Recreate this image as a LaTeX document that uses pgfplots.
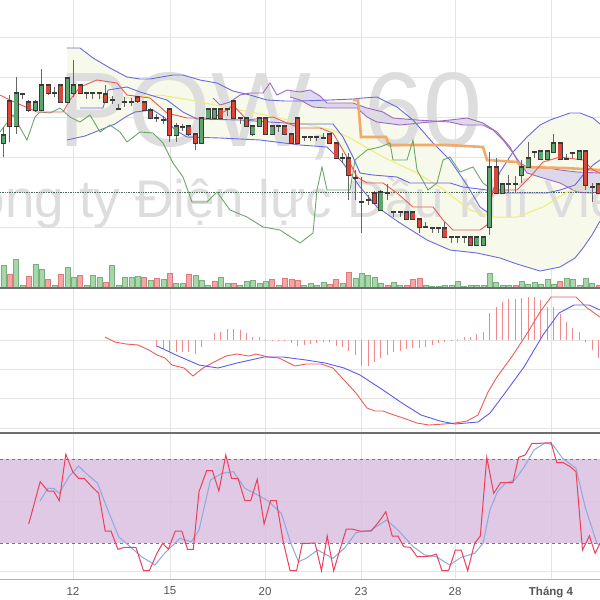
\documentclass[border=0pt]{standalone}
\usepackage{fontspec}
\setmainfont{Liberation Sans}
\usepackage{pgfplots}
\usepackage{pgfplotstable}
\pgfplotsset{compat=1.18}

\definecolor{gridc}{HTML}{E4E4E4}
\definecolor{wmc}{HTML}{DDDDDD}
\definecolor{upc}{HTML}{5AA66E}
\definecolor{dnc}{HTML}{D9473B}
\definecolor{edgec}{HTML}{3A3A3A}
\definecolor{wickc}{HTML}{666666}
\definecolor{volupc}{HTML}{A8D5AA}
\definecolor{volupe}{HTML}{78B07C}
\definecolor{voldnc}{HTML}{F4A5A5}
\definecolor{voldne}{HTML}{E07A7A}
\definecolor{bbc}{HTML}{6A6AE0}
\definecolor{bbfill}{HTML}{F7F9EA}
\definecolor{tenk}{HTML}{EA5A5A}
\definecolor{chik}{HTML}{6AA86A}
\definecolor{cloudc}{HTML}{9E6AC0}
\definecolor{cloudf}{HTML}{D6CFEC}
\definecolor{orng}{HTML}{F2A96A}
\definecolor{yel}{HTML}{EEEC7A}
\definecolor{dotc}{HTML}{4A6A5A}
\definecolor{sepc}{HTML}{6E6E6E}
\definecolor{macdr}{HTML}{F05A5A}
\definecolor{macdb}{HTML}{5A5AF0}
\definecolor{histc}{HTML}{F08A8A}
\definecolor{stband}{HTML}{DABFDF}
\definecolor{stedge}{HTML}{8C6A90}
\definecolor{stk}{HTML}{EE3F5A}
\definecolor{std}{HTML}{8DA9DD}
\definecolor{labc}{HTML}{555555}

% candles, y = screen row (top panel is y dir=reverse)
\pgfplotstableread{
x o h l c
3.3 143 127 157 135
16.1 126 77 134 93
22.5 94 93 99 94
35.3 110 100 112 102
41.7 110 69 111 85
54.5 93 87 97 93
67.3 102 77 103 78
73.7 93 60 97 85
86.5 93 93 99 93
92.9 93 93 99 93
99.3 93 93 99 93
112.1 100 96 104 100
118.5 109 104 109 109
124.9 102 97 107 102
131.3 102 98 106 102
156.9 118 114 122 118
163.3 120 116 124 120
176.1 135 123 142 126
182.5 127 124 131 127
201.7 143 117 144 118
208.1 118 108 119 109
214.5 118 108 119 109
227.3 109 109 116 109
240.1 118 118 124 118
252.9 134 125 136 126
259.3 126 117 127 118
272.1 134 125 135 126
278.5 126 126 132 126
304.1 137 137 141 137
310.5 137 137 141 137
316.9 137 137 141 137
323.3 138 133 138 138
342.5 158 153 163 158
355.3 178 170 200 178
361.7 202 177 233 202
368.1 200 195 205 200
380.9 210 190 211 192
387.3 193 184 200 193
393.7 212 212 217 212
400.1 212 212 217 212
425.7 227 222 227 227
432.1 228 228 233 228
438.5 228 228 233 228
451.3 237 237 243 237
457.7 237 237 243 237
464.1 237 237 243 237
476.9 245 236 246 237
483.3 245 236 246 237
489.7 227 152 235 167
502.5 193 183 194 184
508.9 184 175 192 184
515.3 184 176 192 184
521.7 175 160 183 167
528.1 167 142 168 158
534.5 152 152 158 152
540.9 159 150 160 151
547.3 159 150 160 151
553.7 152 134 153 143
566.5 159 154 159 159
572.9 153 153 158 153
579.3 159 150 160 151
592.1 187 183 202 187
}\upcandles

\pgfplotstableread{
x o h l c
9.7 101 95 142 126
28.9 102 100 112 110
48.1 85 84 95 93
60.9 85 84 103 102
80.1 85 84 94 93
105.7 94 85 103 102
137.7 97 96 103 101
144.1 102 101 111 110
150.5 110 108 119 118
169.7 109 108 142 135
188.9 126 125 136 134
195.3 134 133 150 143
220.9 109 108 119 118
233.7 101 100 119 118
246.5 118 117 127 126
265.7 118 117 135 134
284.9 126 125 135 134
291.3 134 133 144 143
297.7 118 117 144 143
329.7 134 133 144 143
336.1 143 142 159 158
348.9 158 153 200 175
374.5 193 191 204 203
406.5 212 211 220 219
412.9 212 211 220 219
419.3 219 218 233 227
444.9 228 222 238 237
470.5 237 236 246 245
496.1 167 158 194 193
560.1 143 142 160 159
585.7 151 150 190 185
598.5 184 183 194 193
}\dncandles

\pgfplotstableread{
x v
3.3 23
16.1 29
22.5 3
35.3 24
41.7 19
54.5 3
67.3 21
73.7 11
86.5 3
92.9 13
99.3 11
112.1 23
118.5 3
124.9 11
131.3 11
137.7 12
150.5 8
163.3 9
176.1 5
182.5 5
195.3 13
201.7 8
208.1 3
220.9 11
227.3 5
240.1 3
246.5 7
252.9 8
259.3 5
265.7 7
278.5 3
304.1 3
310.5 5
316.9 3
323.3 6
342.5 5
355.3 10
361.7 15
368.1 13
374.5 11
380.9 5
393.7 6
400.1 3
425.7 3
432.1 2
438.5 2
444.9 3
451.3 3
457.7 7
464.1 2
470.5 3
476.9 3
483.3 3
489.7 15
496.1 6
502.5 3
508.9 3
521.7 7
528.1 4
534.5 6
540.9 4
547.3 9
553.7 4
566.5 10
572.9 9
579.3 3
585.7 10
592.1 5
}\volup

\pgfplotstableread{
x v
9.7 14
28.9 12
48.1 9
60.9 14
80.1 13
105.7 6
144.1 11
156.9 10
169.7 15
188.9 14
214.5 7
233.7 5
272.1 9
284.9 10
291.3 9
297.7 8
329.7 4
336.1 9
348.9 16
387.3 3
406.5 3
412.9 9
419.3 10
515.3 3
560.1 7
598.5 3
}\voldn

% MACD histogram, value = 340 - row
\pgfplotstableread{
x v
156.9 -7
163.3 -9
169.7 -12
176.1 -12
182.5 -12
188.9 -12
195.3 -14
201.7 -7
208.1 0
214.5 7
220.9 8
227.3 11
233.7 11
240.1 10
246.5 7
252.9 3
259.3 3
265.7 1
272.1 -1
278.5 -1
284.9 -1
291.3 -3
297.7 -6
304.1 -5
310.5 -4
316.9 -3
323.3 -2
329.7 -2
336.1 -6
342.5 -7
348.9 -11
355.3 -15
361.7 -26
368.1 -26
374.5 -22
380.9 -18
387.3 -15
393.7 -12
400.1 -11
406.5 -9
412.9 -8
419.3 -8
425.7 -7
432.1 -5
438.5 -3
444.9 -2
451.3 -1
457.7 1
464.1 3
470.5 3
476.9 6
483.3 8
489.7 27
496.1 33
502.5 38
508.9 41
515.3 41
521.7 42
528.1 43
534.5 43
540.9 40
547.3 33
553.7 33
560.1 26
566.5 18
572.9 12
579.3 8
585.7 -2
592.1 -10
598.5 -18
}\hist

\pgfplotsset{
  panel/.style={scale only axis, width=600pt, xmin=0, xmax=600,
    axis line style={draw=none}, tick style={draw=none},
    xtick={73,170,265,361,455,551}, xticklabels={}, yticklabels={},
    xmajorgrids, ymajorgrids,
    major grid style={line width=0.6pt, draw=gridc}},
}

\begin{document}
\begin{tikzpicture}
\useasboundingbox (0,0) rectangle (600pt,-600pt);

% ---- price panel ----
\begin{axis}[panel, at={(0,0)}, anchor=north west, height=288pt,
    ymin=0, ymax=288, y dir=reverse, ytick={37,77,117,157,227}]
  % band and cloud fills
  \addplot[draw=none, fill=bbfill] coordinates {
    (67,48) (80,48) (93,58) (110,68) (127,77) (140,79) (150,79) (173,75) (183,75)
    (200,80) (217,83) (233,91) (250,95) (267,100) (285,101) (300,101) (330,100)
    (353,99) (363,98) (377,97) (397,107) (413,120) (433,143) (450,160) (467,185)
    (480,207) (487,212) (493,190) (500,172) (513,152) (527,137) (540,125) (550,120)
    (570,113) (580,113) (593,118) (600,124)
    (600,221) (592,235) (583,248) (575,258) (560,267) (540,271) (517,264) (500,258)
    (477,253) (450,250) (427,240) (400,223) (377,207) (360,187) (343,163) (327,147)
    (300,145) (260,140) (220,138) (187,137) (175,130) (165,118) (153,110) (135,112)
    (127,116) (115,124) (100,130) (85,136) (67,140)} --cycle;
  \addplot[draw=none, fill=cloudf, fill opacity=0.8] coordinates {
    (290,91) (300,92) (310,90) (320,96) (327,103) (353,103) (367,108) (383,112)
    (393,118) (417,120) (450,122) (463,125) (483,125) (493,130) (503,140) (513,153)
    (520,163) (527,167) (543,167) (560,170) (577,172) (600,173)
    (600,192) (590,193) (577,192) (560,183) (543,178) (527,173) (523,167) (517,160)
    (510,147) (497,132) (483,123) (467,118) (450,120) (400,125) (377,122) (367,117)
    (357,108) (327,108) (313,107) (300,100) (290,97)} --cycle;

  \node[anchor=base west, inner sep=0, text=wmc, font=\fontsize{106}{106}\selectfont]
    at (axis cs:58,146) {POW, 60};
  \node[anchor=base west, inner sep=0, text=wmc, font=\fontsize{53}{53}\selectfont]
    at (axis cs:-198,217) {Tổng Công ty Điện lực Dầu khí Việt Nam};

  % bollinger bands
  \addplot[bbc, line width=0.9pt] coordinates {
    (67,48) (80,48) (93,58) (110,68) (127,77) (140,79) (150,79) (173,75) (183,75)
    (200,80) (217,83) (233,91) (250,95) (267,100) (285,101) (300,101) (330,100)
    (353,99) (363,98) (377,97) (397,107) (413,120) (433,143) (450,160) (467,185)
    (480,207) (487,212) (493,190) (500,172) (513,152) (527,137) (540,125) (550,120)
    (570,113) (580,113) (593,118) (600,124)};
  \addplot[bbc, line width=0.9pt] coordinates {
    (67,140) (85,136) (100,130) (115,124) (127,116) (135,112) (153,110) (165,118)
    (175,130) (187,137) (220,138) (260,140) (300,145) (327,147) (343,163) (360,187)
    (377,207) (400,223) (427,240) (450,250) (477,253) (500,258) (517,264) (540,271)
    (560,267) (575,258) (583,248) (592,235) (600,221)};

  % cloud edges
  \addplot[cloudc, line width=0.9pt] coordinates {
    (213,98) (220,105) (230,102) (240,95) (250,93) (263,93) (270,83) (277,95)
    (287,90) (300,92) (310,90) (320,96) (327,103) (353,103) (367,108) (383,112)
    (393,118) (417,120) (450,122) (463,125) (483,125) (493,130) (503,140) (513,153)
    (520,163) (527,167) (543,167) (560,170) (577,172) (600,173)};
  \addplot[cloudc, line width=0.9pt] coordinates {
    (290,97) (300,100) (313,107) (327,108) (357,108) (367,117) (377,122) (400,125)
    (450,120) (467,118) (483,123) (497,132) (510,147) (517,160) (523,167) (527,173)
    (543,178) (560,183) (577,192) (590,193) (600,192)};

  \addplot[dotc, densely dotted, line width=0.7pt] coordinates {(0,192) (600,192)};

  % moving lines
  \addplot[yel, line width=1pt] coordinates {
    (100,97) (130,98) (160,95) (190,100) (220,106) (250,112) (280,118) (300,123)
    (333,130) (350,138) (383,157) (417,173) (440,187) (470,210) (493,217) (517,217)
    (543,207) (567,192) (583,187) (600,183)};
  \addplot[orng, line width=2.6pt] coordinates {
    (353,100) (358,100) (361,137) (386,137) (389,145) (448,145) (483,147) (487,160)
    (517,162) (522,167) (565,168) (600,170)};
  \addplot[chik, line width=0.9pt] coordinates {
    (0,132) (13,115) (27,140) (35,117) (40,112) (50,113) (60,108) (70,117) (80,122)
    (90,115) (100,132) (110,125) (120,132) (127,142) (140,132) (153,133) (163,143)
    (173,163) (183,177) (192,202) (207,202) (217,192) (230,210) (247,217) (263,227)
    (280,230) (300,243) (313,233) (317,190) (322,167) (327,190) (350,190) (355,160)
    (367,150) (380,147) (390,143) (393,160) (407,160) (413,140) (417,170) (428,190)
    (437,183) (443,160) (450,157) (460,172) (473,167) (483,183) (490,188)};
  \addplot[bbc, line width=0.9pt] coordinates {
    (80,108) (103,108) (108,90) (127,87) (140,92) (150,95) (167,100) (183,112)
    (197,119) (240,120) (300,124) (333,124) (343,137) (353,157) (360,173) (373,175)
    (397,177) (410,183) (450,183) (463,187) (487,190) (497,193) (547,193) (560,190)
    (575,185) (583,175) (593,165) (600,160)};
  \addplot[tenk, line width=0.9pt] coordinates {
    (0,95) (10,100) (37,112) (63,112) (70,100) (80,87) (97,80) (117,83) (127,95)
    (150,98) (167,113) (187,118) (213,118) (227,110) (233,105) (247,120) (273,117)
    (287,123) (300,128) (320,128) (333,133) (347,157) (357,177) (367,183) (383,183)
    (397,193) (413,207) (433,207) (443,220) (453,230) (480,230) (487,225) (493,190)
    (517,190) (530,177) (543,162) (560,157) (583,160) (593,170) (600,173)};

  % candles: wicks, dark edges, coloured bodies
  \addplot[wickc, line width=0.9pt, mark=none, forget plot,
    quiver={u=0, v={\thisrow{l}-\thisrow{h}}}] table[x=x, y=h] {\upcandles};
  \addplot[wickc, line width=0.9pt, mark=none, forget plot,
    quiver={u=0, v={\thisrow{l}-\thisrow{h}}}] table[x=x, y=h] {\dncandles};
  \addplot[edgec, line width=5pt, mark=none, forget plot,
    quiver={u=0, v={abs(\thisrow{o}-\thisrow{c})+1.4}}]
    table[x=x, y expr={min(\thisrow{o},\thisrow{c})-0.7}] {\upcandles};
  \addplot[edgec, line width=5pt, mark=none, forget plot,
    quiver={u=0, v={abs(\thisrow{o}-\thisrow{c})+1.4}}]
    table[x=x, y expr={min(\thisrow{o},\thisrow{c})-0.7}] {\dncandles};
  \addplot[upc, line width=3.4pt, mark=none, forget plot,
    quiver={u=0, v={max(abs(\thisrow{o}-\thisrow{c})-1,0)}}]
    table[x=x, y expr={min(\thisrow{o},\thisrow{c})+0.5}] {\upcandles};
  \addplot[dnc, line width=3.4pt, mark=none, forget plot,
    quiver={u=0, v={max(abs(\thisrow{o}-\thisrow{c})-1,0)}}]
    table[x=x, y expr={min(\thisrow{o},\thisrow{c})+0.5}] {\dncandles};
\end{axis}

% ---- volume overlay ----
\begin{axis}[scale only axis, width=600pt, height=288pt, at={(0,0)}, anchor=north west,
    xmin=0, xmax=600, ymin=0, ymax=288, axis line style={draw=none},
    tick style={draw=none}, xticklabels={}, yticklabels={}, ybar, bar width=5pt]
  \addplot[bar shift=0pt, fill=volupc, draw=volupe, line width=0.5pt] table[x=x, y=v] {\volup};
  \addplot[bar shift=0pt, fill=voldnc, draw=voldne, line width=0.5pt] table[x=x, y=v] {\voldn};
\end{axis}

% ---- MACD ----
\begin{axis}[panel, at={(0,-288pt)}, anchor=north west, height=145pt,
    ymin=-93, ymax=52, ytick={31,0,-29,-58,-88}]
  \addplot[ycomb, histc, line width=0.9pt, mark=none] table[x=x, y=v] {\hist};
  \addplot[macdr, line width=0.9pt] coordinates {
    (105,3) (115,-2) (126,-4) (138,-5) (149,-10) (157,-15) (165,-18) (172,-25)
    (184,-28) (193,-36) (203,-28) (214,-22) (226,-16) (237,-14) (249,-16) (256,-14)
    (268,-17) (279,-18) (295,-26) (306,-24) (321,-24) (333,-28) (344,-40) (356,-53)
    (367,-68) (375,-71) (383,-71) (394,-75) (406,-79) (417,-83) (429,-85) (444,-84)
    (455,-83) (467,-81) (478,-75) (488,-52) (497,-37) (513,-15) (528,8) (540,28)
    (551,43) (566,43) (576,43) (586,33) (597,25) (600,23)};
  \addplot[macdb, line width=0.9pt] coordinates {
    (157,-6) (176,-15) (199,-25) (218,-28) (237,-23) (264,-17) (283,-17) (306,-20)
    (325,-23) (344,-28) (360,-35) (383,-50) (402,-63) (421,-75) (440,-81) (455,-84)
    (478,-82) (490,-73) (505,-53) (524,-27) (543,5) (559,27) (574,35) (589,35) (600,30)};
\end{axis}

% ---- stochastic ----
\begin{axis}[panel, at={(0,-433pt)}, anchor=north west, height=146pt,
    ymin=433, ymax=579, y dir=reverse, ytick={501,571},
    xticklabels={12,15,20,23,28,\textbf{Tháng 4}},
    xticklabel style={text=labc, font=\fontsize{11.5}{13}\selectfont, yshift=-4.5pt}]
  \addplot[draw=none, fill=stband, fill opacity=0.85] coordinates {
    (0,459) (600,459) (600,543) (0,543)} --cycle;
  \addplot[stedge, dashed, line width=0.7pt] coordinates {(0,459) (600,459)};
  \addplot[stedge, dashed, line width=0.7pt] coordinates {(0,543) (600,543)};
  \addplot[std, line width=1pt] coordinates {
    (40.2,500.7) (47.8,488.3) (53.6,488.3) (59.3,493.3) (68.9,476.7) (78.5,466)
    (86.1,473.3) (97.6,483.3) (105.2,503.3) (118.6,536.7) (130.1,546.7) (141.6,556.7)
    (155,565) (164.6,553.3) (179.9,538.3) (191.4,541.7) (199,530) (210.5,480)
    (222,473.3) (233.4,471.7) (244.9,488.3) (254.5,493.3) (267.9,500.7) (281.3,513.3)
    (290.9,543.3) (298.5,561.7) (306.2,558.3) (317.6,550) (333,558.3) (344.4,548.3)
    (355.9,532.7) (371.2,530) (386.5,520) (398,530) (413.3,546.7) (424.8,555)
    (436.3,556.7) (449.7,565) (461.2,557.3) (474.6,553.3) (483,543.3) (489.9,510)
    (497.5,491.7) (505.2,483.3) (514.7,480) (524.3,466.7) (533.9,450) (545.4,442.7)
    (553,445) (562.6,458.3) (576,468.3) (585.5,508.3) (597,543.3) (600,545)};
  \addplot[stk, line width=1pt] coordinates {
    (28.7,524) (40.2,481.7) (47.8,491) (53.6,491) (59.3,500.7) (65.8,454.3)
    (72.7,471.7) (78.5,478.3) (84.2,478.3) (91.8,486.7) (98.7,493.3) (105.2,531)
    (111,531) (117.9,549.3) (124.4,547.3) (135.9,547.3) (143.5,570.7) (149.3,570.7)
    (156.9,553.3) (162.6,543.3) (168.4,549.3) (175.3,531) (181.8,531) (187.5,549.3)
    (193.3,549.3) (199,491.7) (206.7,470.7) (212.4,470.7) (218.9,491) (225.8,455)
    (231.5,478.3) (238,478.3) (244.9,500.7) (250.7,500.7) (257.2,479.3) (264.1,524)
    (270.6,500.7) (276.3,500.7) (283.2,541.7) (290.1,570.7) (296.6,570.7) (302.3,543.3)
    (309.2,543.3) (315,543) (321.5,570.7) (327.2,536) (333.7,570.7) (339.8,550)
    (346.3,529) (352.1,529) (359.7,531) (371.2,531) (378.9,521.7) (385.8,511.7)
    (392.3,536) (398,536) (403.7,546.7) (410.3,547.3) (417.1,556.7) (422.9,556.7)
    (430.5,556) (436.3,554) (442,570.7) (448.5,570.7) (455.4,550) (461.2,550)
    (467.7,570.7) (474.6,543.3) (480.3,536) (486.8,457.3) (493.7,493.3) (500.6,482.7)
    (507.1,482.7) (512.8,482.7) (518.6,457.3) (525.1,455) (532,443.3) (539.6,443.3)
    (551.1,442.7) (556.8,462.7) (563.3,462.7) (570.2,466.7) (576,471.7) (582.5,550)
    (589.4,536) (595.1,553.3) (600,543.3)};
\end{axis}

\draw[sepc, line width=1.6pt] (0,-288pt) -- (600pt,-288pt);
\draw[sepc, line width=1.4pt] (0,-433pt) -- (600pt,-433pt);
\draw[gray!60, line width=0.8pt] (0,-579pt) -- (600pt,-579pt);
\end{tikzpicture}
\end{document}
